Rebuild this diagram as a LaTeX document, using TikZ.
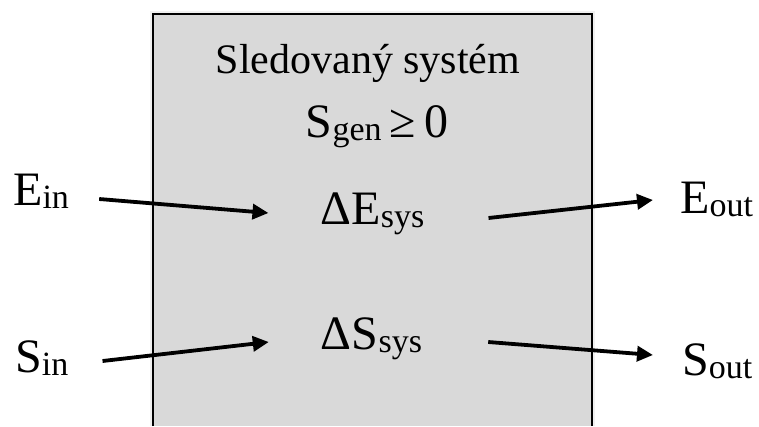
\documentclass[tikz,border=0pt]{standalone}
\usepackage{fontspec}
\setmainfont{Liberation Serif}
\usetikzlibrary{arrows.meta}
\definecolor{boxfill}{HTML}{D9D9D9}
\newcommand{\lowsub}[1]{\raisebox{-3pt}{\fontsize{34}{36}\selectfont #1}}
\begin{document}
\begin{tikzpicture}[x=1pt, y=-1pt,
  lbl/.style={inner sep=0pt, font=\fontsize{48}{52}\selectfont},
  flow/.style={line width=3.8pt, -{Triangle[length=16pt,width=15pt]}}]
\useasboundingbox (0,0) rectangle (759,426);
\fill[black, opacity=0.06] (150,11) rectangle (595,426);
\fill[boxfill] (153,14) rectangle (592,426);
\draw[line width=1.4pt] (153,426) -- (153,14) -- (592,14) -- (592,426);
\node[inner sep=0pt, anchor=base, font=\fontsize{42}{46}\selectfont] (title) at (368,73) {Sledovaný systém};
\node[lbl, anchor=base] (sgen)  at (377,137)   {S\lowsub{gen}\,≥\,0};
\node[lbl, anchor=base] (desys) at (372.5,224) {ΔE\lowsub{sys}};
\node[lbl, anchor=base] (dssys) at (371.5,349) {ΔS\lowsub{sys}};
\node[lbl, anchor=base west] (ein)  at (13,205)  {E\lowsub{in}};
\node[lbl, anchor=base west] (sin)  at (15,372)  {S\lowsub{in}};
\node[lbl, anchor=base west] (eout) at (680,213) {E\lowsub{out}};
\node[lbl, anchor=base west] (sout) at (682,375) {S\lowsub{out}};
\draw[flow] ([xshift=30pt,yshift=6pt]ein.base east) -- ([xshift=-52pt,yshift=11pt]desys.base west);
\draw[flow] ([xshift=64pt,yshift=6pt]desys.base east) -- ([xshift=-27pt,yshift=13pt]eout.base west);
\draw[flow] ([xshift=34pt,yshift=11pt]sin.base east) -- ([xshift=-52pt,yshift=7pt]dssys.base west);
\draw[flow] ([xshift=66pt,yshift=7pt]dssys.base east) -- ([xshift=-29pt,yshift=20pt]sout.base west);
\end{tikzpicture}
\end{document}
